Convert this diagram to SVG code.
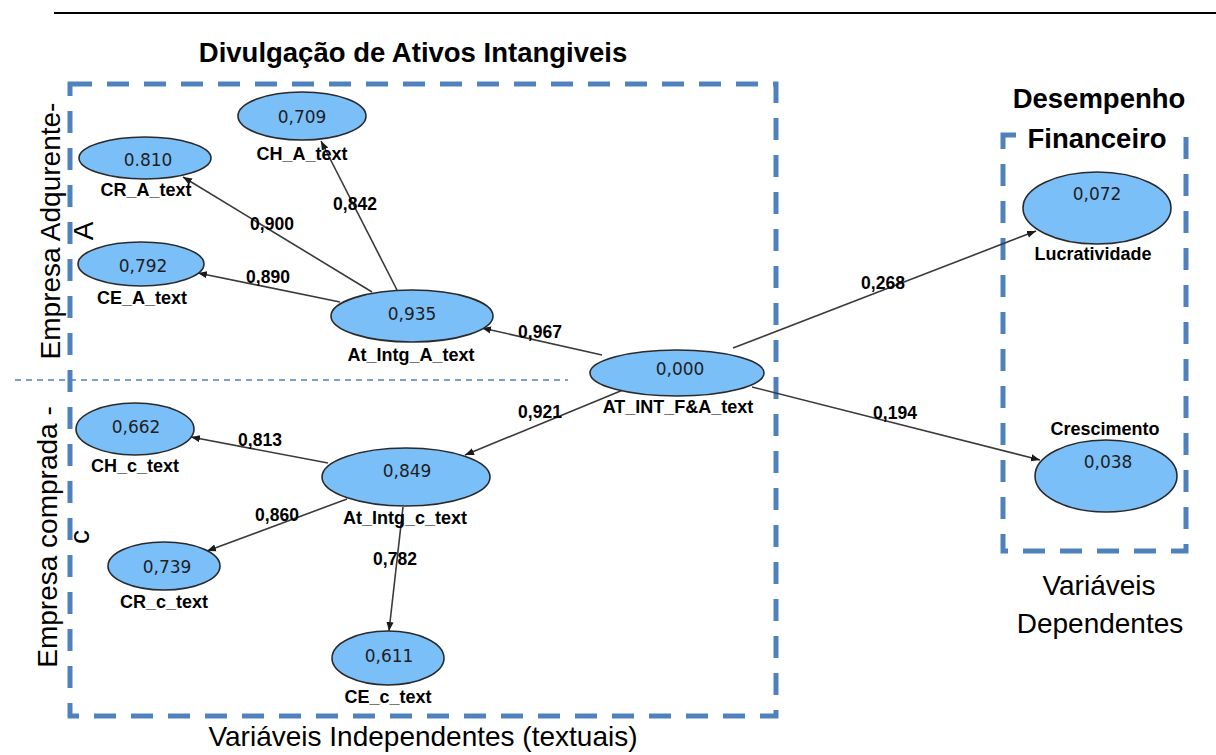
<svg xmlns="http://www.w3.org/2000/svg" width="1216" height="755" viewBox="0 0 1216 755">
<style>
.box{fill:none;stroke:#4f81bd;stroke-width:5;stroke-dasharray:22 15}
.node{fill:#7bbff9;stroke:#2a2a2a;stroke-width:1.6}
.val{font-family:"DejaVu Sans",sans-serif;font-size:17px;fill:#1e1e1e;text-anchor:middle}
.lbl{font-family:"Liberation Sans",Arial,sans-serif;font-size:18px;font-weight:bold;fill:#000;text-anchor:middle}
.elbl{font-family:"Liberation Sans",Arial,sans-serif;font-size:17.5px;font-weight:bold;fill:#000;text-anchor:middle}
.big{font-family:"Liberation Sans",Arial,sans-serif;font-size:28px;fill:#000;text-anchor:middle}
.bigb{font-family:"Liberation Sans",Arial,sans-serif;font-size:27.5px;font-weight:bold;fill:#000;text-anchor:middle}
.edge{stroke:#3a3a3a;stroke-width:1.6;fill:none;marker-end:url(#ah)}
</style>
<defs>
<marker id="ah" viewBox="0 0 10 10" refX="10" refY="5" markerWidth="9" markerHeight="9" markerUnits="userSpaceOnUse" orient="auto">
<path d="M0,1 L10,5 L0,9 z" fill="#1a1a1a"/>
</marker>
</defs>
<rect width="1216" height="755" fill="#fff"/>
<line x1="54" y1="13" x2="1216" y2="13" stroke="#000" stroke-width="2"/>

<g id="frames">
<rect class="box" x="70" y="84" width="706" height="632"/>
<rect class="box" x="1003" y="135" width="183" height="416"/>
<line x1="15" y1="380" x2="568" y2="380" stroke="#4f81bd" stroke-width="1.3" stroke-dasharray="6 5"/>
<rect x="1016" y="126" width="162" height="28" fill="#fff"/>
</g>

<g id="headings">
<text class="bigb" x="413" y="62">Divulgação de Ativos Intangiveis</text>
<text class="bigb" x="1099" y="108">Desempenho</text>
<text class="bigb" x="1097" y="148">Financeiro</text>
<text class="big" x="1099" y="595" font-size="27.5">Variáveis</text>
<text class="big" x="1100" y="633" font-size="27.5">Dependentes</text>
<text class="big" x="423" y="746" font-size="25">Variáveis Independentes (textuais)</text>
<text class="big" transform="translate(60,231) rotate(-90)">Empresa Adqurente-</text>
<text class="big" transform="translate(93,231) rotate(-90)">A</text>
<text class="big" transform="translate(57,537) rotate(-90)">Empresa comprada -</text>
<text class="big" transform="translate(89,537) rotate(-90)">c</text>
</g>

<g id="connectors">
<line class="edge" x1="397" y1="290" x2="321" y2="141"/>
<line class="edge" x1="372" y1="292" x2="183" y2="177"/>
<line class="edge" x1="340" y1="302" x2="198" y2="273"/>
<line class="edge" x1="602" y1="355" x2="482" y2="328"/>
<line class="edge" x1="623" y1="390" x2="465" y2="455"/>
<line class="edge" x1="328" y1="463" x2="191" y2="437"/>
<line class="edge" x1="347" y1="499" x2="207" y2="551"/>
<line class="edge" x1="403" y1="507" x2="389" y2="631"/>
<line class="edge" x1="733" y1="348" x2="1036" y2="231"/>
<line class="edge" x1="752" y1="387" x2="1040" y2="460"/>
<text class="elbl" x="355" y="210">0,842</text>
<text class="elbl" x="272" y="230">0,900</text>
<text class="elbl" x="268" y="283">0,890</text>
<text class="elbl" x="540" y="338">0,967</text>
<text class="elbl" x="540" y="418">0,921</text>
<text class="elbl" x="260" y="446">0,813</text>
<text class="elbl" x="277" y="521">0,860</text>
<text class="elbl" x="395" y="565">0,782</text>
<text class="elbl" x="883" y="289">0,268</text>
<text class="elbl" x="895" y="419">0,194</text>
</g>

<g id="n_CH_A">
<ellipse class="node" cx="302" cy="116" rx="64" ry="24"/>
<text class="val" x="302" y="123">0,709</text>
<text class="lbl" x="302" y="160">CH_A_text</text>
</g>
<g id="n_CR_A">
<ellipse class="node" cx="145" cy="158" rx="66" ry="21"/>
<text class="val" x="148" y="166">0.810</text>
<text class="lbl" x="146" y="196">CR_A_text</text>
</g>
<g id="n_CE_A">
<ellipse class="node" cx="141" cy="264" rx="63" ry="22"/>
<text class="val" x="143" y="272">0,792</text>
<text class="lbl" x="142" y="304">CE_A_text</text>
</g>
<g id="n_At_Intg_A">
<ellipse class="node" cx="412" cy="316" rx="81" ry="26"/>
<text class="val" x="412" y="320">0,935</text>
<text class="lbl" x="411" y="361">At_Intg_A_text</text>
</g>
<g id="n_AT_INT_FA">
<ellipse class="node" cx="677" cy="373" rx="87" ry="23"/>
<text class="val" x="680" y="375">0,000</text>
<text class="lbl" x="678" y="413">AT_INT_F&amp;A_text</text>
</g>
<g id="n_CH_c">
<ellipse class="node" cx="135" cy="429" rx="59" ry="26"/>
<text class="val" x="136" y="433">0,662</text>
<text class="lbl" x="135" y="472">CH_c_text</text>
</g>
<g id="n_At_Intg_c">
<ellipse class="node" cx="406" cy="477" rx="84" ry="29"/>
<text class="val" x="407" y="477">0,849</text>
<text class="lbl" x="405" y="524">At_Intg_c_text</text>
</g>
<g id="n_CR_c">
<ellipse class="node" cx="164" cy="566" rx="56" ry="24"/>
<text class="val" x="167" y="573">0,739</text>
<text class="lbl" x="164" y="608">CR_c_text</text>
</g>
<g id="n_CE_c">
<ellipse class="node" cx="388" cy="658" rx="56" ry="27"/>
<text class="val" x="389" y="662">0,611</text>
<text class="lbl" x="388" y="703">CE_c_text</text>
</g>
<g id="n_Lucratividade">
<ellipse class="node" cx="1097" cy="208" rx="74" ry="36"/>
<text class="val" x="1097" y="200">0,072</text>
<text class="lbl" x="1093" y="260">Lucratividade</text>
</g>
<g id="n_Crescimento">
<ellipse class="node" cx="1106" cy="476" rx="71" ry="36"/>
<text class="val" x="1108" y="468">0,038</text>
<text class="lbl" x="1105" y="435">Crescimento</text>
</g>
</svg>
